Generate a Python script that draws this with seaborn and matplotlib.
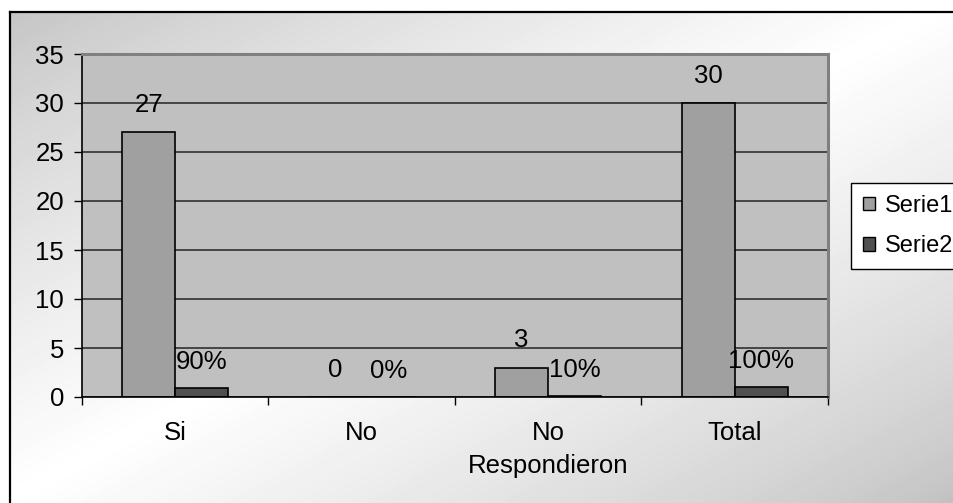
import numpy as np
import pandas as pd
import matplotlib
matplotlib.use("Agg")
import matplotlib.pyplot as plt
import seaborn as sns
from matplotlib.patches import Patch
from matplotlib.lines import Line2D

categories = ["Si", "No", "No\nRespondieron", "Total"]
serie1 = [27, 0, 3, 30]
serie2 = [0.90, 0.00, 0.10, 1.00]
series_names = ["Serie1", "Serie2"]
y_ticks = [0, 5, 10, 15, 20, 25, 30, 35]

plt.rcParams["font.family"] = ["Liberation Sans", "DejaVu Sans"]
FS = 18.5
LEG_FS = 17

W, H = 954, 503
fig = plt.figure(figsize=(W / 100, H / 100), dpi=100)

# diagonal grey-white-grey backdrop inside the frame
bg = fig.add_axes([0, 0, 1, 1], zorder=-10)
yy, xx = np.mgrid[0:H, 0:W]
u = xx / W
v = yy / H
t = 1 - np.abs(u + v - 1.0)
grad = 0.755 + (1 - 0.755) * np.clip(t, 0, 1) ** 0.8
grad[(xx < 10) | (yy < 12)] = 1.0
bg.imshow(grad, extent=[0, 1, 0, 1], aspect="auto", cmap="gray", vmin=0, vmax=1,
          interpolation="bilinear")
bg.set_xlim(0, 1)
bg.set_ylim(0, 1)
bg.axis("off")

# outer frame (left and top edges visible)
fx, fy = 10.5 / W, 1 - 12 / H
fig.add_artist(Line2D([fx, fx], [0, fy], transform=fig.transFigure, color="black", lw=1.6))
fig.add_artist(Line2D([fx, 1.0], [fy, fy], transform=fig.transFigure, color="black", lw=1.6))

ax = fig.add_axes([82 / W, 1 - 397 / H, (828 - 82) / W, (397 - 54) / H])
ax.set_facecolor("#c0c0c0")

df = pd.DataFrame({
    "cat": categories * 2,
    "serie": [series_names[0]] * 4 + [series_names[1]] * 4,
    "val": serie1 + serie2,
})
colors = ["#a0a0a0", "#505050"]
sns.barplot(data=df, x="cat", y="val", hue="serie", order=categories,
            hue_order=series_names, palette=colors, width=0.57, dodge=True,
            edgecolor="black", linewidth=1.2, saturation=1, legend=False, ax=ax)

ax.bar_label(ax.containers[0], labels=[f"{v:g}" for v in serie1],
             padding=11, fontsize=FS)
ax.bar_label(ax.containers[1], labels=[f"{v:.0%}" for v in serie2],
             padding=10, fontsize=FS)

ax.set_xlim(-0.5, 3.5)
ax.set_ylim(0, 35)
ax.set_yticks(y_ticks)
ax.set_xlabel("")
ax.set_ylabel("")
ax.yaxis.grid(True, color="#303030", lw=1.2)
ax.set_axisbelow(True)

ax.tick_params(axis="y", direction="out", length=6, width=1, pad=7,
               labelsize=FS, color="black")
ax.tick_params(axis="x", which="major", length=0, pad=17.5, labelsize=FS)
for lbl in ax.get_xticklabels():
    lbl.set_linespacing(1.45)
ax.set_xticks(np.arange(-0.5, 4.0, 1.0), minor=True)
ax.tick_params(axis="x", which="minor", direction="out", length=6, width=1, color="black")

for side in ["left", "bottom"]:
    ax.spines[side].set_color("black")
    ax.spines[side].set_linewidth(1.2)
for side in ["top", "right"]:
    ax.spines[side].set_color("#808080")
    ax.spines[side].set_linewidth(2.2)

handles = [Patch(facecolor=c, edgecolor="black", lw=1) for c in colors]
leg = fig.legend(handles, series_names, loc="upper left",
                 bbox_to_anchor=(851 / W, 1 - 183 / H), bbox_transform=fig.transFigure,
                 fontsize=LEG_FS, frameon=True, fancybox=False, framealpha=1,
                 facecolor="white", edgecolor="black", borderpad=0.5,
                 labelspacing=0.78, handlelength=0.5, handleheight=0.5,
                 handletextpad=0.45, borderaxespad=0)
leg.get_frame().set_linewidth(1.0)

fig.savefig("out.png", dpi=100)
